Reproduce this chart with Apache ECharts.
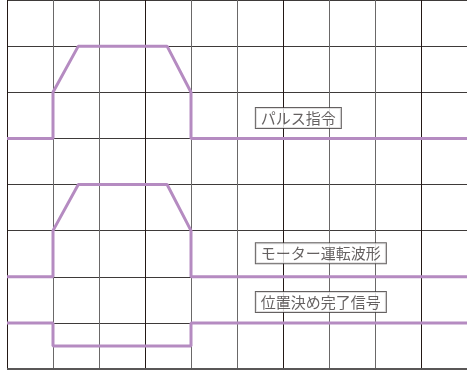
<!DOCTYPE html>
<html>
<head>
<meta charset="utf-8">
<script src="https://cdn.jsdelivr.net/npm/echarts@6/dist/echarts.min.js"></script>
<style>
  html, body { margin: 0; padding: 0; background: #fff; }
  #chart { width: 467px; height: 372px; }
</style>
</head>
<body>
<div id="chart"></div>
<script>
// 波形データ（横：マス目、縦：マス目）
const pulseX = [0, 1, 1, 1.55, 3.48, 4, 4, 10];
const pulseY = [5, 5, 6, 7, 7, 6, 5, 5];
const motorX = [0, 1, 1, 1.55, 3.48, 4, 4, 10];
const motorY = [2, 2, 3, 4, 4, 3, 2, 2];
const signalX = [0, 1, 1, 4, 4, 10];
const signalY = [1, 1, 0.5, 0.5, 1, 1];

// ラベル
const labelNames = ["パルス指令", "モーター運転波形", "位置決め完了信号"];
const labelX = [5.41, 5.41, 5.41];
const labelY = [5.44, 2.51, 1.45];

const zip = (xs, ys) => xs.map((x, i) => [x, ys[i]]);

const chart = echarts.init(document.getElementById("chart"));

const waveLine = (name, data) => ({
  name: name,
  type: "line",
  data: data,
  symbol: "none",
  lineStyle: { color: "#b58bc1", width: 3 },
  z: 3,
});

chart.setOption({
  animation: false,
  backgroundColor: "#fff",
  grid: { left: 7, top: 0, width: 461.25, height: 369, containLabel: false },
  xAxis: {
    type: "value",
    min: 0,
    max: 10,
    interval: 1,
    axisLine: { show: false },
    axisTick: { show: false },
    axisLabel: { show: false },
    splitLine: {
      show: true,
      showMinLine: true,
      lineStyle: { color: ["#231815", "#6a6868", "#6a6868"], width: 1 },
    },
  },
  yAxis: {
    type: "value",
    min: 0,
    max: 8,
    interval: 1,
    axisLine: { show: false },
    axisTick: { show: false },
    axisLabel: { show: false },
    splitLine: {
      show: true,
      lineStyle: { color: "#3e3a39", width: 1 },
    },
  },
  series: [
    waveLine("パルス指令", zip(pulseX, pulseY)),
    waveLine("モーター運転波形", zip(motorX, motorY)),
    waveLine("位置決め完了信号", zip(signalX, signalY)),
    {
      type: "scatter",
      symbolSize: 0,
      z: 5,
      data: labelNames.map((n, i) => [labelX[i], labelY[i], n]),
      label: {
        show: true,
        position: "right",
        distance: 0,
        formatter: (p) => p.value[2],
        fontFamily: "Noto Sans CJK JP",
        fontSize: 15,
        lineHeight: 15,
        color: "#3e3a39",
        backgroundColor: "#fff",
        borderColor: "#3e3a39",
        borderWidth: 1,
        padding: [3, 5, 2, 5],
      },
    },
    // 下端の枠線
    {
      type: "line",
      data: [[0, 0], [10, 0]],
      symbol: "none",
      lineStyle: { color: "#595757", width: 2 },
      z: 2,
      silent: true,
    },
  ],
});
</script>
</body>
</html>
